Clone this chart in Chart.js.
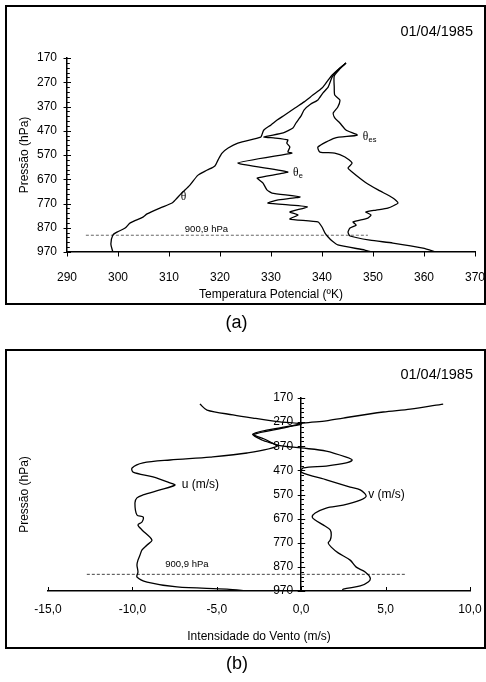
<!DOCTYPE html>
<html><head><meta charset="utf-8">
<script src="https://cdn.jsdelivr.net/npm/chart.js@4.4.1/dist/chart.umd.min.js"></script>
<style>
html,body{margin:0;padding:0;background:#fff;}
body{width:486px;height:682px;position:relative;overflow:hidden;}
.frame{position:absolute;left:5px;width:481px;height:300px;border:2px solid #000;box-sizing:border-box;}
canvas{position:absolute;left:0;}
</style></head><body>
<div class="frame" style="top:5px"></div>
<div class="frame" style="top:349px"></div>
<canvas id="ca" width="486" height="340" style="top:0;width:486px;height:340px"></canvas>
<canvas id="cb" width="486" height="342" style="top:340px;width:486px;height:342px"></canvas>
<script>
// ---------- tick labels / constants ----------
const pressureTicks = [170, 270, 370, 470, 570, 670, 770, 870, 970];
const tempTicks = [290, 300, 310, 320, 330, 340, 350, 360, 370];
const windTicks = [-15, -10, -5, 0, 5, 10];
const windTickLabels = ['-15,0', '-10,0', '-5,0', '0,0', '5,0', '10,0'];
const refLevel = 900.9;
const refLabel = '900,9 hPa';
const dateLabel = '01/04/1985';
const refSpanA = [293.7, 349.0];
const refSpanB = [-12.7, 6.15];

// ---------- (a) potential temperature profiles ----------
const thetaP = [191, 211, 240, 261, 294, 323, 351, 376, 405, 426, 446, 467, 488, 496, 521, 541, 562, 591, 615, 632, 653, 694, 727, 756, 768, 789, 813, 826, 850, 871, 888, 900, 937, 970];
const thetaT = [344.7, 343.5, 342.0, 341.2, 340.0, 338.2, 336.5, 334.7, 332.7, 331.2, 330.0, 328.6, 328.2, 328.0, 323.5, 321.6, 320.4, 319.6, 319.0, 317.5, 315.7, 314.1, 312.5, 311.2, 310.6, 308.2, 305.7, 304.9, 302.4, 301.4, 299.8, 299.0, 298.6, 299.0];

const thetaeP = [191, 220, 248, 290, 314, 343, 360, 384, 409, 438, 459, 479, 496, 500, 508, 521, 537, 558, 562, 603, 640, 665, 685, 714, 727, 743, 756, 768, 784, 805, 817, 834, 846, 867, 892, 908, 925, 941, 962, 970];
const thetaeT = [344.7, 343.1, 342.0, 341.2, 340.2, 339.2, 337.8, 336.5, 335.9, 334.9, 334.3, 332.4, 328.6, 330.8, 333.3, 333.1, 333.7, 333.3, 334.1, 323.5, 333.3, 327.3, 328.4, 329.2, 330.2, 335.7, 331.2, 329.4, 337.1, 333.7, 335.3, 333.7, 339.2, 340.0, 340.6, 341.2, 342.0, 343.1, 348.4, 349.8];

const thetaesP = [191, 215, 244, 290, 323, 343, 372, 397, 417, 438, 467, 488, 500, 537, 558, 562, 578, 603, 624, 640, 681, 714, 747, 768, 789, 797, 805, 817, 830, 846, 859, 871, 888, 904, 921, 933, 954, 970];
const thetaesT = [344.7, 343.5, 342.4, 342.4, 342.5, 343.5, 343.1, 342.2, 342.5, 343.5, 344.7, 346.9, 342.5, 339.2, 339.6, 342.5, 344.5, 345.9, 345.1, 345.9, 348.4, 351.0, 353.9, 354.9, 352.9, 350.6, 348.6, 349.6, 349.0, 346.1, 346.7, 345.5, 345.1, 345.5, 349.4, 353.9, 359.8, 362.4];

// ---------- (b) wind components ----------
const uP = [195, 220, 240, 253, 269, 278, 290, 319, 344, 369, 398, 415, 427, 439, 460, 477, 497, 522, 531, 551, 572, 584, 605, 655, 663, 684, 696, 717, 759, 779, 800, 821, 842, 862, 891, 912, 933, 953, 962, 970];
const uVal = [-6.00, -5.58, -4.04, -2.86, -1.26, 0.0, -0.95, -2.86, -2.32, -1.43, -3.21, -5.40, -7.77, -9.37, -10.02, -9.96, -8.78, -7.77, -7.48, -8.37, -9.37, -9.73, -9.85, -9.73, -9.37, -9.43, -9.67, -9.43, -8.84, -9.13, -9.43, -9.55, -9.67, -9.73, -9.67, -9.73, -9.13, -7.36, -4.40, -3.15];

const vP = [195, 216, 228, 253, 265, 274, 292, 321, 340, 365, 377, 390, 415, 427, 439, 452, 460, 477, 510, 539, 551, 576, 593, 614, 626, 647, 663, 676, 696, 717, 738, 759, 771, 788, 812, 842, 871, 891, 916, 933, 949, 962, 970];
const vVal = [8.41, 6.46, 4.86, 2.49, 1.48, 0.12, -0.89, -2.80, -2.19, -1.42, 0.0, 1.48, 2.67, 3.02, 2.67, 1.48, 0.12, 0.0, 1.54, 2.90, 3.50, 3.85, 3.50, 2.49, 1.48, 0.83, 0.65, 0.83, 1.30, 1.72, 1.78, 1.72, 1.60, 1.78, 2.19, 2.90, 3.26, 3.79, 4.09, 3.97, 3.50, 2.49, 2.43];

// ---------- helpers ----------
Chart.defaults.font.family = "'Liberation Sans', Arial, Helvetica, sans-serif";
Chart.defaults.font.size = 12;
Chart.defaults.color = '#000';

function pts(xs, ys) { return xs.map((v, i) => ({x: v, y: ys[i]})); }
function lineDS(data, extra) {
  return Object.assign({data, showLine: true, borderColor: '#000', borderWidth: 1.3,
    pointRadius: 0, pointHoverRadius: 0, tension: 0.25, fill: false}, extra || {});
}
function seg(ctx, x1, y1, x2, y2) { ctx.beginPath(); ctx.moveTo(x1, y1); ctx.lineTo(x2, y2); ctx.stroke(); }
function al(v) { return Math.round(v) + 0.5; }
function drawTheta(ctx, x, y, sub) {
  ctx.textAlign = 'left'; ctx.textBaseline = 'middle';
  ctx.font = "11.5px 'Liberation Serif', 'DejaVu Serif', serif";
  ctx.fillText('\u03b8', x, y);
  const w = ctx.measureText('\u03b8').width;
  if (sub) {
    ctx.font = "7.5px 'Liberation Sans', Arial, sans-serif";
    ctx.fillText(sub, x + w + 0.3, y + 2.8);
  }
}
function yTicks(ctx, ys, ax) {
  for (let i = 0; i < pressureTicks.length; i++) {
    const py = al(ys.getPixelForValue(pressureTicks[i]));
    seg(ctx, ax - 3.5, py, ax + 4, py);
    if (i < pressureTicks.length - 1) {
      const step = (pressureTicks[i + 1] - pressureTicks[i]) / 5;
      for (let k = 1; k < 5; k++) {
        const my = al(ys.getPixelForValue(pressureTicks[i] + k * step));
        seg(ctx, ax, my, ax + 2.8, my);
      }
    }
  }
}

const decorA = {
  id: 'decorA',
  afterDraw(chart) {
    const {ctx} = chart; const xs = chart.scales.x, ys = chart.scales.y;
    ctx.save();
    ctx.strokeStyle = '#000'; ctx.fillStyle = '#000'; ctx.lineWidth = 1;
    const ax = xs.getPixelForValue(tempTicks[0]);
    yTicks(ctx, ys, ax);
    const yb = ys.getPixelForValue(pressureTicks[pressureTicks.length - 1]);
    tempTicks.forEach(v => { const px = al(xs.getPixelForValue(v)); seg(ctx, px, yb, px, yb + 4.5); });
    ctx.textBaseline = 'middle';
    ctx.font = "14.5px 'Liberation Sans', Arial, sans-serif"; ctx.textAlign = 'right';
    ctx.fillText(dateLabel, 473, 32);
    ctx.font = "9.5px 'Liberation Sans', Arial, sans-serif"; ctx.textAlign = 'center';
    ctx.fillText(refLabel, xs.getPixelForValue(317.35), ys.getPixelForValue(refLevel) - 6);
    drawTheta(ctx, xs.getPixelForValue(312.3), ys.getPixelForValue(743), '');
    drawTheta(ctx, xs.getPixelForValue(334.3), ys.getPixelForValue(644), 'e');
    drawTheta(ctx, xs.getPixelForValue(348.0), ys.getPixelForValue(496), 'es');
    ctx.font = "18px 'Liberation Sans', Arial, sans-serif"; ctx.textAlign = 'center';
    ctx.fillText('(a)', 236.5, 323);
    ctx.restore();
  }
};

const decorB = {
  id: 'decorB',
  afterDraw(chart) {
    const {ctx} = chart; const xs = chart.scales.x, ys = chart.scales.y;
    ctx.save();
    ctx.strokeStyle = '#000'; ctx.fillStyle = '#000'; ctx.lineWidth = 1;
    const ax = xs.getPixelForValue(0);
    yTicks(ctx, ys, ax);
    const yb = ys.getPixelForValue(pressureTicks[pressureTicks.length - 1]);
    windTicks.forEach(v => { const px = al(xs.getPixelForValue(v)); seg(ctx, px, yb - 4, px, yb); });
    ctx.textBaseline = 'middle';
    ctx.font = "12px 'Liberation Sans', Arial, sans-serif"; ctx.textAlign = 'right';
    pressureTicks.forEach(v => ctx.fillText(String(v), ax - 8, ys.getPixelForValue(v)));
    ctx.font = "14.5px 'Liberation Sans', Arial, sans-serif"; ctx.textAlign = 'right';
    ctx.fillText(dateLabel, 473, 35);
    ctx.font = "9.5px 'Liberation Sans', Arial, sans-serif"; ctx.textAlign = 'center';
    ctx.fillText(refLabel, xs.getPixelForValue(-6.77), ys.getPixelForValue(refLevel) - 10);
    ctx.font = "12px 'Liberation Sans', Arial, sans-serif"; ctx.textAlign = 'left';
    ctx.fillText('u (m/s)', xs.getPixelForValue(-7.08), ys.getPixelForValue(531));
    ctx.fillText('v (m/s)', xs.getPixelForValue(3.97), ys.getPixelForValue(569));
    ctx.font = "18px 'Liberation Sans', Arial, sans-serif"; ctx.textAlign = 'center';
    ctx.fillText('(b)', 237, 324);
    ctx.restore();
  }
};

const commonOpts = {
  responsive: false, animation: false, events: [],
  plugins: {legend: {display: false}, tooltip: {enabled: false}}
};
const axisBorder = {display: true, color: '#000', width: 1.5};
const noGrid = {display: false, drawTicks: false};

new Chart(document.getElementById('ca'), {
  type: 'scatter',
  data: {datasets: [
    lineDS(pts(thetaT, thetaP)),
    lineDS(pts(thetaeT, thetaeP), {tension: 0.15}),
    lineDS(pts(thetaesT, thetaesP), {tension: 0.2}),
    lineDS(pts(refSpanA, [refLevel, refLevel]), {borderColor: '#666', borderWidth: 1, borderDash: [3, 2], tension: 0})
  ]},
  options: Object.assign({}, commonOpts, {
    layout: {padding: {left: 12, right: 11, top: 58, bottom: 0}},
    scales: {
      x: {type: 'linear', position: 'bottom', min: 290, max: 370,
        afterBuildTicks: s => { s.ticks = tempTicks.map(v => ({value: v})); },
        afterFit: s => { s.height = 88; s.paddingLeft = 10; s.paddingRight = 10; },
        grid: noGrid, border: axisBorder,
        ticks: {padding: 18, autoSkip: false, maxRotation: 0, font: {size: 12},
          callback: (v, i) => String(tempTicks[i])},
        title: {display: true, text: 'Temperatura Potencial (\u00baK)', font: {size: 12}, padding: {top: 0, bottom: 38}}
      },
      y: {type: 'linear', position: 'left', reverse: true, min: 170, max: 970,
        afterBuildTicks: s => { s.ticks = pressureTicks.map(v => ({value: v})); },
        afterFit: s => { s.width = 55; s.paddingTop = 8; s.paddingBottom = 8; },
        grid: noGrid, border: axisBorder,
        ticks: {padding: 10, autoSkip: false, font: {size: 12}, callback: (v, i) => String(pressureTicks[i])},
        title: {display: true, text: 'Press\u00e3o (hPa)', font: {size: 12}, padding: {top: 5.8, bottom: 0}}
      }
    }
  }),
  plugins: [decorA]
});

new Chart(document.getElementById('cb'), {
  type: 'scatter',
  data: {datasets: [
    lineDS(pts(uVal, uP), {tension: 0.3, xAxisID: 'x', yAxisID: 'y'}),
    lineDS(pts(vVal, vP), {tension: 0.3, xAxisID: 'x', yAxisID: 'y'}),
    lineDS(pts(refSpanB, [refLevel, refLevel]), {borderColor: '#444', borderWidth: 1, borderDash: [3, 2], tension: 0, xAxisID: 'x', yAxisID: 'y'})
  ]},
  options: Object.assign({}, commonOpts, {
    layout: {padding: {left: 10, right: 16, top: 58, bottom: 0}},
    scales: {
      x: {type: 'linear', position: 'bottom', min: -15, max: 10,
        afterBuildTicks: s => { s.ticks = windTicks.map(v => ({value: v})); },
        afterFit: s => { s.height = 91; s.paddingLeft = 14; s.paddingRight = 14; },
        grid: noGrid, border: axisBorder,
        ticks: {padding: 11.8, autoSkip: false, maxRotation: 0, font: {size: 12},
          callback: (v, i) => windTickLabels[i]},
        title: {display: true, text: 'Intensidade do Vento (m/s)', font: {size: 12}, padding: {top: 0, bottom: 37.8}}
      },
      y: {type: 'linear', axis: 'y', position: {x: 0}, reverse: true, min: 170, max: 970,
        afterBuildTicks: s => { s.ticks = pressureTicks.map(v => ({value: v})); },
        afterFit: s => { s.paddingTop = 8; s.paddingBottom = 8; },
        grid: noGrid, border: axisBorder,
        ticks: {display: false}
      },
      yTitle: {type: 'linear', axis: 'y', position: 'left', reverse: true, min: 170, max: 970,
        afterFit: s => { s.width = 38; },
        grid: noGrid, border: {display: false},
        ticks: {display: false},
        title: {display: true, text: 'Press\u00e3o (hPa)', font: {size: 12}, padding: {top: 7.8, bottom: 0}}
      }
    }
  }),
  plugins: [decorB]
});
</script>
</body></html>
